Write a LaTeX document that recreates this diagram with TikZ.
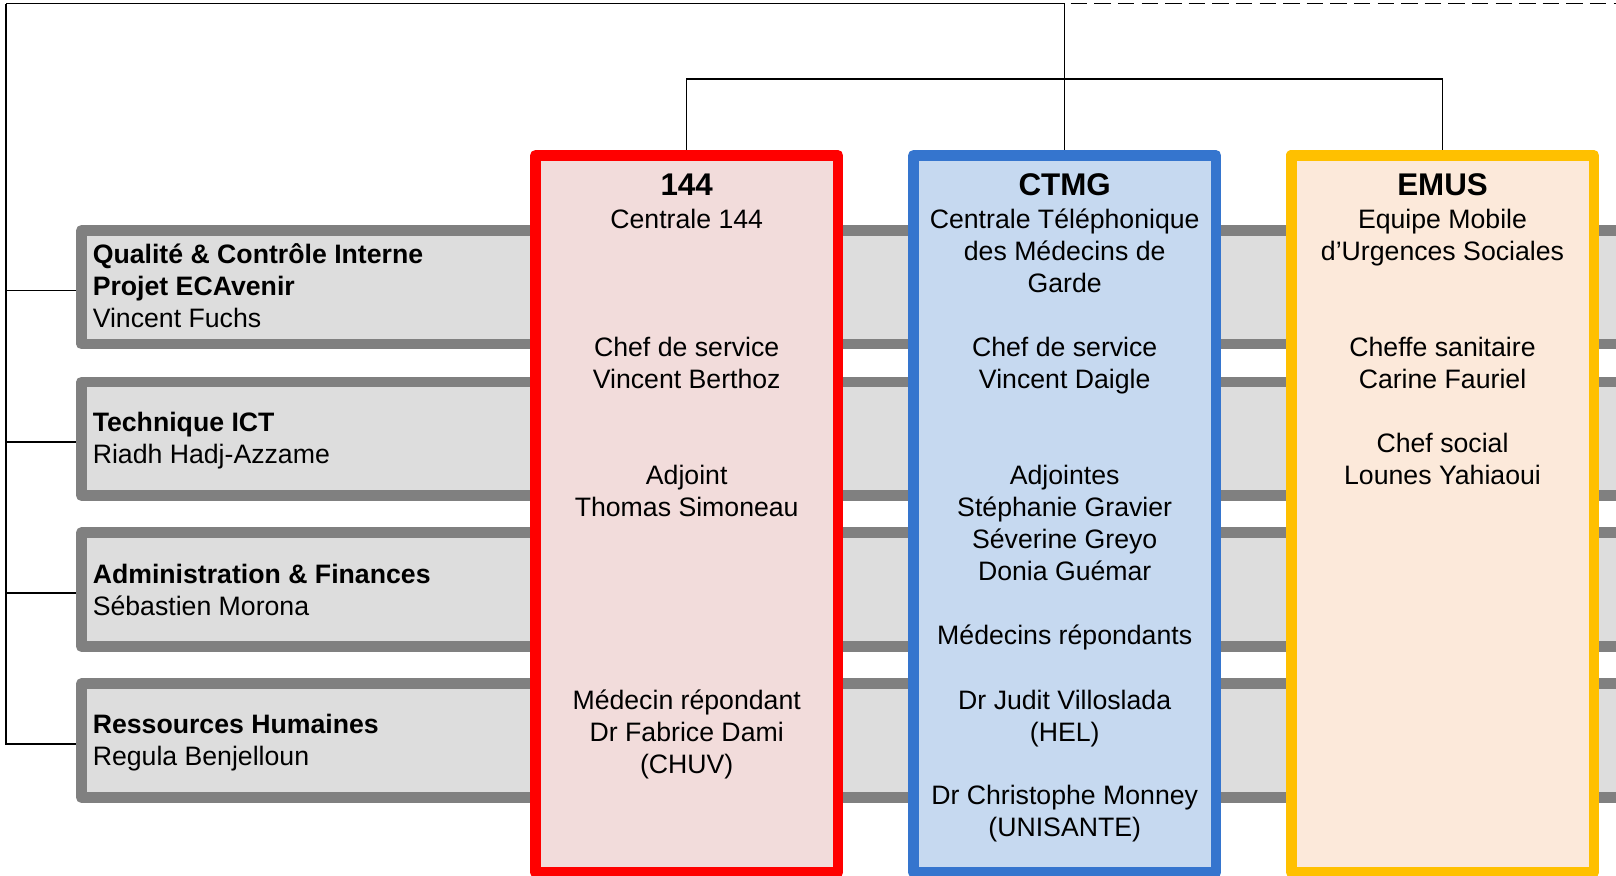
\documentclass[tikz,border=0pt]{standalone}
\usepackage{fontspec}
\setmainfont{Liberation Sans}
\definecolor{barline}{HTML}{808080}
\definecolor{barfill}{HTML}{DDDDDD}
\definecolor{redline}{HTML}{FF0000}
\definecolor{redfill}{HTML}{F2DCDB}
\definecolor{blueline}{HTML}{3575CE}
\definecolor{bluefill}{HTML}{C6D9F0}
\definecolor{yelline}{HTML}{FFC000}
\definecolor{yelfill}{HTML}{FCE9DA}
\tikzset{
  conn/.style={draw=black, line width=1.1pt},
  bar/.style={draw=barline, fill=barfill, line width=8pt, line join=round,
    minimum width=1184pt, minimum height=85.3pt, inner sep=0pt},
  unit/.style={line width=8pt, line join=round, minimum width=227pt,
    minimum height=537.75pt, inner sep=0pt},
  titletxt/.style={font=\fontsize{23.5}{28}\selectfont\bfseries, inner sep=0pt},
  ctxt/.style={font=\fontsize{20}{24}\selectfont, align=center, inner sep=0pt},
  ltxt/.style={font=\fontsize{20}{24}\selectfont, align=left, inner sep=0pt, anchor=west}
}
\begin{document}
\begin{tikzpicture}[x=0.75pt,y=-0.75pt]
\useasboundingbox (0,0) rectangle (1616,875);
\fill[white] (0,0) rectangle (1616,875);

% grey horizontal bars
\node[bar] (bar1) at (870.7,287.2) {};
\node[bar] (bar2) at (870.7,438.7) {};
\node[bar] (bar3) at (870.7,589.6) {};
\node[bar] (bar4) at (870.7,740.6) {};

% coloured units
\node[unit, draw=redline, fill=redfill] (u144) at (686.7,513.8) {};
\node[unit, draw=blueline, fill=bluefill] (uctmg) at (1064.7,513.8) {};
\node[unit, draw=yelline, fill=yelfill] (uemus) at (1442.5,513.8) {};

% connectors
\coordinate (topL) at (6,3.5);
\coordinate (topM) at (1064.7,3.5);
\coordinate (topR) at (1625,3.5);
\coordinate (bus) at (1064.7,79);
\draw[conn] (topL) -- (topM);
\draw[conn, dash pattern=on 12.4pt off 5.3pt, dash phase=-4.5pt] (topM) -- (topR);
\draw[conn] (topM) -- (uctmg.north);
\draw[conn] (u144.north) -- (u144.north |- bus) -| (uemus.north);

\coordinate (t1) at ([yshift=-2.5pt]bar1.west);
\coordinate (t2) at ([yshift=-2.5pt]bar2.west);
\coordinate (t3) at ([yshift=-2.5pt]bar3.west);
\coordinate (t4) at ([yshift=-2.5pt]bar4.west);
\draw[conn] (topL) |- (t4);
\draw[conn] (topL |- t1) -- (t1);
\draw[conn] (topL |- t2) -- (t2);
\draw[conn] (topL |- t3) -- (t3);

% left bar texts
\node[ltxt] (l1) at (92.5,289.5) {\strut\textbf{Qualité \& Contrôle Interne}\\\textbf{Projet ECAvenir}\\Vincent Fuchs\strut};
\node[ltxt] (l2) at (92.5,441.5) {\strut\textbf{Technique ICT}\\Riadh Hadj-Azzame\strut};
\node[ltxt] (l3) at (92.5,593) {\strut\textbf{Administration \& Finances}\\Sébastien Morona\strut};
\node[ltxt] (l4) at (92.5,743.5) {\strut\textbf{Ressources Humaines}\\Regula Benjelloun\strut};

% 144
\node[titletxt] (h144) at (686.7,185) {144};
\node[ctxt] (a144) at (686.7,222.5) {\strut Centrale 144\strut};
\node[ctxt] (b144) at (686.7,366) {\strut Chef de service\\Vincent Berthoz\strut};
\node[ctxt] (c144) at (686.7,494) {\strut Adjoint\\Thomas Simoneau\strut};
\node[ctxt] (d144) at (686.7,735) {\strut Médecin répondant\\Dr Fabrice Dami\\(CHUV)\strut};

% CTMG
\node[titletxt] (hctmg) at (1064.7,185) {CTMG};
\node[ctxt] (actmg) at (1064.7,254.3) {\strut Centrale Téléphonique\\des Médecins de\\Garde\strut};
\node[ctxt] (bctmg) at (1064.7,366) {\strut Chef de service\\Vincent Daigle\strut};
\node[ctxt] (cctmg) at (1064.7,526) {\strut Adjointes\\Stéphanie Gravier\\Séverine Greyo\\Donia Guémar\strut};
\node[ctxt] (dctmg) at (1064.7,638) {\strut Médecins répondants\strut};
\node[ctxt] (ectmg) at (1064.7,719) {\strut Dr Judit Villoslada\\(HEL)\strut};
\node[ctxt] (fctmg) at (1064.7,814.5) {\strut Dr Christophe Monney\\(UNISANTE)\strut};

% EMUS
\node[titletxt] (hemus) at (1442.5,185) {EMUS};
\node[ctxt] (aemus) at (1442.5,238.5) {\strut Equipe Mobile\\d’Urgences Sociales\strut};
\node[ctxt] (bemus) at (1442.5,366) {\strut Cheffe sanitaire\\Carine Fauriel\strut};
\node[ctxt] (cemus) at (1442.5,462) {\strut Chef social\\Lounes Yahiaoui\strut};
\end{tikzpicture}
\end{document}
